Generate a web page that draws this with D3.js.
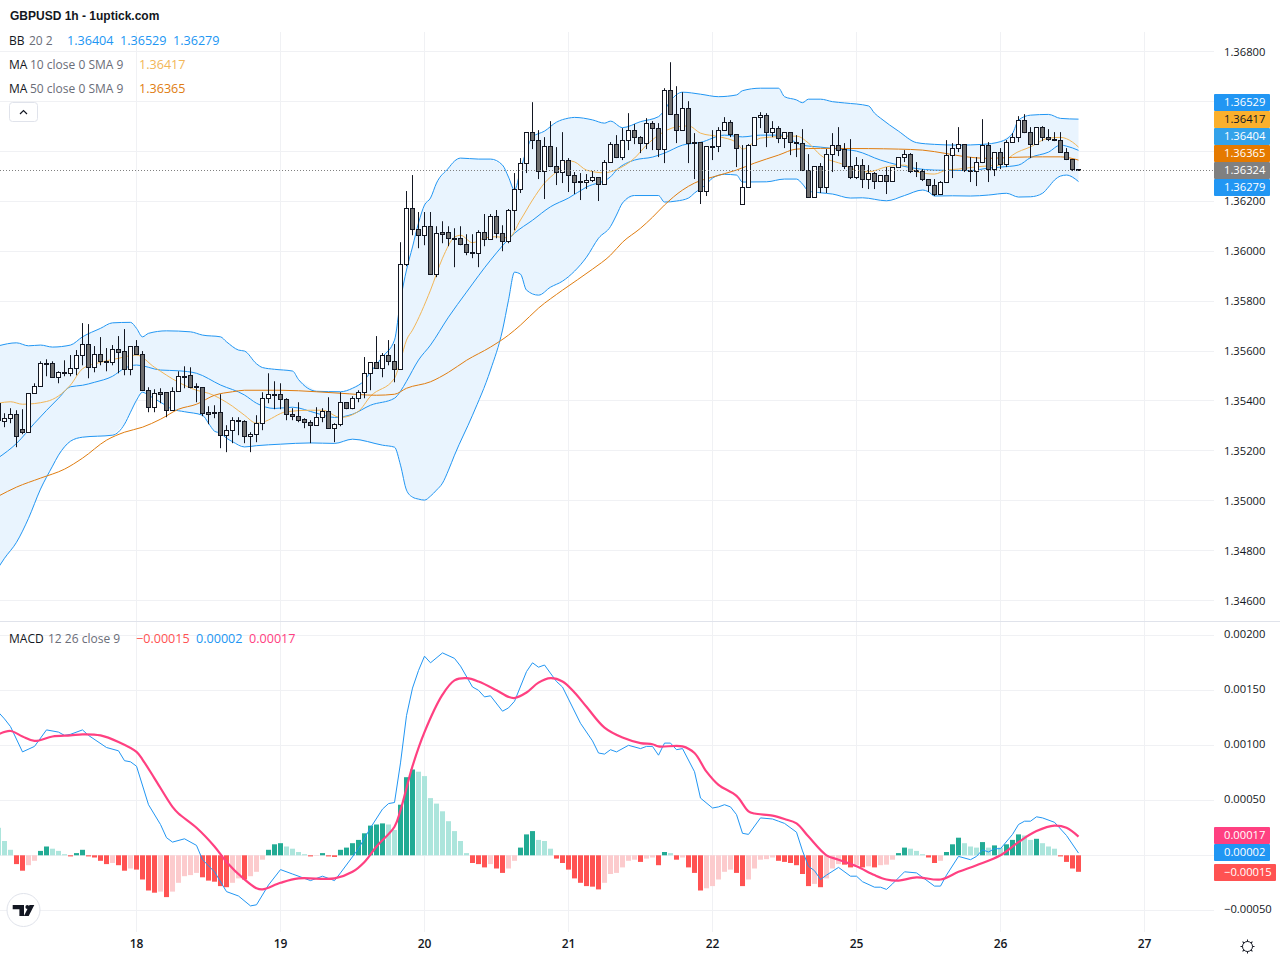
<!DOCTYPE html>
<html>
<head>
<meta charset="utf-8">
<title>GBPUSD 1h</title>
<script src="https://cdn.jsdelivr.net/npm/d3@7"></script>
<style>
    body { margin: 0; background: #fff; }
    svg { display: block; }
    text { font-family: "Open Sans", Roboto, sans-serif; font-size: 12px; }
    .axis path, .axis line { display: none; }
    .axis text { fill: #131722; font-size: 11.2px; }
</style>
</head>
<body>
<svg id="chart" width="1280" height="960"></svg>
<script>
// all prices and macd values are in points of 0.00001, hours count from the 18th 00:00
const FIRST_HOUR = -23;

const opens = [
    135391,135319,135331,135347,135287,135275,135431,135459,135551,135551,135495,135515,135511,135531,135584,135628,135535,135588,135559,135557,135608,135600,135527,
    135620,135588,135443,135375,135435,135435,135363,135439,135499,135503,135457,135455,135355,135355,135355,135263,135283,135323,135319,135259,135267,135311,135411,135427,
    135427,135407,135347,135339,135327,135315,135303,135335,135359,135291,135307,135395,135371,135411,135435,135511,135555,135531,135584,135559,135527,135948,136173,136088,
    136064,136100,135908,136076,136076,136052,136052,136028,135996,135992,136076,136048,136140,136072,136040,136165,136249,136353,136477,136445,136321,136421,136341,136317,
    136365,136305,136281,136277,136285,136297,136269,136357,136429,136377,136445,136485,136457,136433,136513,136493,136409,136645,136549,136485,136573,136433,136437,136241,
    136421,136419,136485,136517,136469,136189,136257,136425,136537,136545,136477,136493,136453,136477,136437,136433,136325,136217,136341,136257,136389,136425,136409,136341,
    136297,136345,136289,136313,136281,136305,136281,136337,136377,136389,136323,136321,136289,136265,136229,136277,136385,136413,136429,136325,136321,136357,136425,136329,
    136397,136349,136437,136457,136525,136477,136429,136497,136457,136449,136445,136397,136369,136327
];
const highs = [
    135403,135351,135371,135363,135367,135431,135471,135559,135567,135559,135519,135563,135584,135604,135712,135708,135620,135656,135612,135624,135660,135688,135620,
    135644,135600,135455,135447,135451,135435,135455,135519,135539,135535,135471,135455,135379,135383,135427,135303,135335,135335,135323,135275,135343,135435,135511,135479,
    135471,135411,135371,135395,135331,135323,135375,135371,135415,135311,135435,135395,135419,135443,135576,135555,135660,135592,135644,135628,136036,136241,136305,136157,
    136157,136157,136100,136120,136100,136092,136100,136068,136068,136084,136149,136149,136165,136104,136169,136313,136373,136477,136597,136485,136457,136521,136417,136477,
    136373,136317,136313,136309,136321,136297,136365,136437,136465,136493,136553,136509,136461,136533,136521,136513,136653,136757,136661,136637,136601,136473,136437,136421,
    136485,136497,136537,136525,136469,136425,136429,136537,136557,136553,136521,136501,136477,136477,136465,136489,136389,136341,136353,136409,136473,136497,136433,136449,
    136377,136369,136345,136317,136305,136337,136337,136377,136405,136393,136357,136329,136289,136289,136281,136445,136433,136497,136429,136377,136377,136529,136437,136397,
    136413,136445,136473,136541,136549,136497,136497,136501,136489,136477,136477,136413,136369,136327
];
const lows = [
    135303,135295,135311,135215,135267,135275,135431,135459,135499,135495,135471,135499,135499,135503,135543,135491,135515,135543,135519,135543,135511,135503,135503,
    135584,135443,135355,135355,135391,135335,135363,135439,135451,135451,135395,135339,135307,135331,135211,135195,135231,135263,135231,135195,135235,135283,135391,135367,
    135367,135323,135323,135315,135291,135231,135303,135315,135291,135235,135299,135367,135367,135395,135411,135443,135531,135495,135543,135475,135527,135940,136064,136012,
    136024,135908,135896,136032,136020,135936,136024,135984,135972,135936,136020,136048,136052,136000,136032,136084,136233,136313,136409,136289,136209,136337,136265,136273,
    136237,136229,136205,136249,136277,136201,136269,136357,136373,136365,136405,136429,136393,136409,136405,136377,136353,136549,136433,136485,136353,136289,136189,136221,
    136365,136397,136485,136457,136337,136189,136257,136425,136493,136417,136457,136433,136413,136385,136377,136321,136217,136217,136233,136233,136317,136381,136329,136289,
    136289,136253,136249,136249,136281,136229,136281,136337,136357,136313,136297,136281,136237,136221,136225,136277,136293,136397,136317,136277,136261,136353,136277,136301,
    136329,136337,136437,136437,136473,136373,136429,136441,136441,136441,136397,136365,136321,136324
];
const closes = [
    135323,135331,135347,135259,135275,135431,135459,135551,135547,135495,135515,135511,135531,135584,135628,135535,135588,135559,135557,135608,135596,135527,135620,
    135588,135443,135375,135431,135427,135363,135439,135499,135495,135455,135455,135351,135347,135351,135263,135283,135323,135319,135259,135267,135311,135411,135427,135425,
    135407,135347,135339,135323,135315,135303,135335,135359,135291,135307,135395,135371,135411,135435,135511,135555,135531,135584,135559,135527,135948,136173,136088,136064,
    136100,135908,136072,136068,136052,136050,136028,135996,135992,136076,136048,136140,136072,136040,136165,136249,136353,136477,136445,136321,136421,136341,136317,136365,
    136305,136277,136277,136285,136297,136269,136357,136429,136377,136445,136485,136457,136433,136513,136493,136409,136645,136549,136485,136573,136433,136437,136241,136421,
    136419,136485,136517,136469,136413,136257,136425,136537,136545,136477,136493,136453,136477,136437,136433,136325,136217,136341,136257,136389,136425,136405,136341,136297,
    136345,136289,136313,136281,136305,136281,136337,136377,136389,136321,136321,136289,136265,136229,136277,136385,136413,136429,136325,136321,136357,136425,136329,136397,
    136349,136437,136457,136525,136477,136429,136497,136457,136449,136445,136397,136369,136329,136324
];

// [hour, value] pairs
const bbUpper = [[-23,135621],[-20,135633],[-18,135621],[-16,135624],[-14,135616],[-11,135624],[-9,135657],[-6,135691],[-4,135713],[-1,135715],[0,135691],[1,135657],[2,135671],[5,135681],[9,135677],[11,135664],[14,135657],[15,135637],[17,135604],[18,135600],[20,135549],[21,135534],[23,135527],[26,135520],[27,135486],[30,135439],[34,135437],[36,135451],[38,135483],[39,135516],[41,135577],[43,135644],[44,135804],[45,135925],[46,136017],[47,136113],[48,136185],[49,136213],[50,136273],[52,136333],[53,136361],[54,136373],[57,136369],[59,136369],[61,136345],[62,136297],[63,136245],[64,136325],[65,136405],[66,136457],[68,136481],[70,136517],[72,136533],[73,136536],[76,136526],[78,136513],[79,136521],[81,136495],[84,136519],[87,136539],[88,136566],[89,136602],[91,136637],[94,136629],[97,136619],[100,136626],[101,136643],[104,136653],[107,136653],[108,136619],[110,136606],[111,136595],[112,136609],[114,136609],[116,136599],[118,136594],[122,136582],[123,136553],[124,136533],[127,136481],[130,136435],[133,136428],[137,136425],[141,136428],[144,136439],[146,136472],[147,136525],[149,136545],[152,136548],[154,136532],[157,136529]];
const bbMiddle = [[-23,135173],[-20,135230],[-17,135311],[-13,135411],[-11,135457],[-9,135463],[-7,135475],[-4,135499],[-2,135531],[0,135544],[4,135524],[7,135521],[10,135511],[14,135464],[18,135424],[20,135391],[23,135370],[26,135375],[30,135351],[33,135334],[36,135347],[39,135383],[43,135411],[44,135439],[45,135479],[47,135564],[49,135624],[52,135736],[55,135836],[59,135964],[63,136072],[66,136124],[69,136178],[72,136213],[75,136257],[79,136298],[80,136325],[83,136365],[86,136377],[88,136393],[91,136425],[94,136436],[98,136465],[101,136458],[104,136465],[108,136465],[110,136433],[111,136425],[114,136417],[117,136409],[120,136401],[124,136365],[127,136345],[130,136331],[133,136325],[139,136323],[142,136333],[144,136337],[147,136345],[149,136375],[152,136397],[154,136425],[155,136421],[157,136404]];
const bbLower = [[-23,134734],[-22,134770],[-20,134834],[-18,134930],[-16,135047],[-14,135139],[-13,135183],[-11,135239],[-9,135255],[-4,135263],[-2,135307],[-1,135355],[0,135403],[1,135435],[2,135423],[4,135395],[6,135367],[8,135357],[11,135343],[12,135311],[13,135279],[14,135271],[15,135251],[16,135237],[18,135216],[20,135221],[24,135227],[29,135232],[33,135230],[36,135247],[41,135223],[43,135215],[44,135143],[45,135043],[46,135015],[47,135007],[48,135003],[49,135019],[50,135043],[51,135071],[52,135123],[53,135183],[56,135343],[59,135524],[61,135684],[62,135804],[63,135916],[64,135908],[65,135844],[67,135824],[69,135856],[71,135880],[73,135920],[75,135976],[77,136052],[79,136099],[80,136145],[81,136193],[83,136223],[87,136223],[88,136197],[90,136201],[92,136213],[93,136233],[95,136269],[96,136293],[98,136308],[100,136305],[101,136277],[105,136278],[108,136289],[110,136289],[111,136269],[112,136241],[114,136234],[116,136229],[119,136213],[121,136214],[125,136202],[128,136223],[131,136245],[132,136238],[133,136221],[136,136222],[139,136221],[142,136225],[145,136232],[147,136217],[149,136218],[151,136232],[152,136257],[153,136285],[154,136301],[155,136305],[157,136279]];
const ma10 = [[-23,135391],[-21,135397],[-19,135387],[-15,135398],[-11,135464],[-9,135529],[-6,135555],[-3,135571],[0,135584],[3,135535],[7,135475],[10,135443],[12,135431],[16,135379],[18,135343],[20,135311],[21,135315],[25,135357],[29,135363],[31,135363],[34,135334],[37,135359],[39,135419],[43,135491],[44,135563],[45,135644],[46,135684],[49,135844],[51,135972],[53,136056],[54,136064],[56,136034],[58,136053],[60,136058],[62,136053],[64,136125],[66,136205],[68,136273],[70,136318],[72,136362],[73,136358],[75,136325],[78,136314],[80,136327],[83,136373],[85,136425],[87,136465],[90,136498],[92,136502],[94,136473],[97,136459],[100,136436],[101,136409],[104,136453],[107,136459],[110,136461],[112,136433],[114,136385],[118,136345],[119,136333],[122,136318],[125,136338],[128,136345],[130,136318],[133,136309],[135,136325],[137,136329],[140,136338],[142,136342],[144,136345],[145,136365],[146,136385],[149,136418],[152,136453],[154,136456],[156,136437],[157,136417]];
const ma50 = [[-23,135019],[-20,135055],[-16,135091],[-12,135127],[-9,135171],[-5,135243],[-2,135275],[1,135295],[4,135327],[7,135367],[10,135387],[13,135423],[16,135437],[18,135443],[24,135443],[30,135437],[34,135431],[40,135423],[43,135427],[45,135451],[49,135477],[52,135515],[55,135563],[59,135616],[62,135664],[64,135704],[67,135772],[71,135844],[76,135928],[79,135984],[81,136036],[84,136092],[86,136136],[88,136185],[91,136245],[93,136273],[96,136297],[100,136325],[103,136353],[107,136385],[110,136409],[114,136412],[122,136411],[127,136409],[131,136405],[135,136391],[138,136379],[142,136372],[146,136376],[151,136378],[154,136378],[157,136365]];

const macdHist = [
    25,13,5,-8,-14,-9,-5,4,8,6,4,1,-1,2,5,-1,-2,-5,-8,-7,-9,-14,-12,
    -13,-22,-32,-34,-33,-38,-33,-25,-19,-18,-16,-20,-23,-24,-28,-29,-25,-21,-22,-19,-15,-4,5,10,
    11,8,6,3,1,-1,-0.4,2,-1,-1.5,5,7,11,14,20,27,28,29,28,23,46,71,
    78,76,72,52,47,40,31,22,13,2,-7,-8,-11,-8,-12,-16,-12,-5,7,19,22,14,13,6,
    -3,-7,-13,-21,-25,-28,-28.5,-31,-25,-17,-16,-11,-5,-4,-6,-3,-2,-9,3,2,-4,-2,-11,-16,
    -32,-30,-28,-22,-15,-13,-16,-28,-22,-12,-4,-3.5,-2,-5,-6,-7,-9,-17,-28,-26,-29,-21,-12,-8,
    -8.5,-11,-9,-11,-10,-11,-9,-8.5,-4,2,7,6,4,1,-2,-7,-5,3,10,16,11,8,7,12,
    7,9,7,10,14,19,18,14,15,11,8,6,-1,-6,-12,-15
];
const macdLine = [[-23,130],[-22,124],[-21,117],[-19,94],[-17,99],[-15,114],[-13,112],[-12,109],[-11,110],[-9,114],[-8,109],[-5,98],[-3,95],[-2,86],[-1,85],[0,81],[2,46],[4,28],[5,16],[6,12],[8,15],[10,9],[11,-4],[13,-15],[15,-33],[17,-37],[19,-46],[20,-45],[22,-27],[24,-13],[26,-17],[29,-23],[31,-19],[33,-23],[34,-16],[37,6],[39,25],[41,42],[42,47],[43,48],[44,84],[45,127],[46,152],[47,168],[48,181],[49,175],[51,184],[53,179],[54,172],[56,153],[57,150],[58,144],[59,145],[61,131],[62,134],[63,140],[65,167],[66,175],[67,171],[68,173],[70,158],[71,153],[74,120],[76,104],[77,93],[78,92],[79,96],[80,94],[82,100],[84,97],[85,99],[86,99],[87,91],[88,102],[89,102],[90,96],[91,97],[93,76],[94,52],[96,43],[97,44],[98,46],[99,44],[100,37],[101,20],[102,19],[104,34],[106,33],[107,31],[108,29],[110,21],[111,4],[112,-10],[113,-14],[114,-22],[115,-18],[117,-11],[119,-19],[120,-19],[121,-24],[123,-29],[124,-29],[125,-31],[126,-26],[128,-15],[130,-16],[133,-28],[134,-28],[135,-18],[137,-1],[139,-4],[140,-1],[141,5],[142,3],[143,6],[144,6],[146,19],[147,28],[148,31],[149,31],[150,35],[151,34],[153,30],[155,18],[157,2]];
const macdSignal = [[-23,110],[-21,113],[-19,108],[-17,104],[-14,108],[-11,109],[-9,110],[-6,109],[-3,103],[0,94],[1,87],[3,70],[6,44],[7,38],[10,25],[13,8],[15,-6],[18,-22],[20,-30],[21,-31],[24,-25],[27,-21],[33,-21],[36,-15],[38,-6],[40,8],[43,26],[44,41],[46,81],[48,112],[51,146],[53,159],[55,161],[57,158],[60,150],[62,144],[63,143],[65,148],[67,157],[69,161],[71,158],[73,148],[75,135],[78,116],[81,107],[84,102],[86,101],[87,99],[91,99],[93,93],[95,76],[97,64],[100,54],[102,40],[103,38],[106,36],[108,33],[110,29],[112,17],[115,0],[117,-4],[120,-10],[123,-18],[125,-22],[127,-23],[130,-20],[134,-22],[137,-15],[140,-9],[144,0],[147,12],[150,22],[153,27],[155,25],[157,17]];

const DAY_TICKS = [0, 24, 48, 72, 96, 120, 144, 168];
const DAY_NAMES = ['18', '19', '20', '21', '22', '25', '26', '27'];
const PRICE_GRID = [134600,134800,135000,135200,135400,135600,135800,136000,136200,136400,136600,136800];
const PRICE_LABELS = [134600,134800,135000,135200,135400,135600,135800,136000,136200,136800];
const MACD_GRID = [-50,0,50,100,150,200];
const MACD_LABELS = [-50,50,100,150,200];

const BLUE = '#2196f3';
const ORANGE_LIGHT = '#f2b657';
const ORANGE = '#e07d10';
const PINK = '#ff4081';
const RED = '#ff5252';
const GRID = '#f0f1f4';
const INK = '#131722';
const MUTED = '#6a6d78';

const PANE_RIGHT = 1214;
const candles = opens.map((o, i) => ({ hour: FIRST_HOUR + i, o, h: highs[i], l: lows[i], c: closes[i] }));

const x = d3.scaleLinear().domain([0, 157]).range([136.5, 1078.5]);
const y = d3.scaleLinear().domain([134600, 136800]).range([600.7, 51.5]);
const yMacd = d3.scaleLinear().domain([-50, 200]).range([910.3, 635.3]);
const crisp = (v) => Math.round(v - 0.5) + 0.5;
const fmt = (v) => (v / 1e5).toFixed(5).replace('-', '\u2212');

const svg = d3.select('#chart');
svg.append('defs').append('clipPath').attr('id', 'pane')
    .append('rect').attr('width', PANE_RIGHT).attr('height', 960);

// grid
const grid = svg.append('g').attr('stroke', GRID).attr('shape-rendering', 'crispEdges');
grid.selectAll('.h1').data(PRICE_GRID).enter().append('line')
    .attr('x1', 0).attr('x2', PANE_RIGHT).attr('y1', d => crisp(y(d))).attr('y2', d => crisp(y(d)));
grid.selectAll('.h2').data(MACD_GRID).enter().append('line')
    .attr('x1', 0).attr('x2', PANE_RIGHT).attr('y1', d => crisp(yMacd(d))).attr('y2', d => crisp(yMacd(d)));
grid.selectAll('.v1').data(DAY_TICKS).enter().append('line')
    .attr('x1', d => x(d)).attr('x2', d => x(d)).attr('y1', 32).attr('y2', 621);
grid.selectAll('.v2').data(DAY_TICKS).enter().append('line')
    .attr('x1', d => x(d)).attr('x2', d => x(d)).attr('y1', 622).attr('y2', 932);

svg.append('line').attr('x1', 0).attr('x2', 1280).attr('y1', 621.5).attr('y2', 621.5).attr('stroke', '#e0e3eb');

const plot = svg.append('g').attr('clip-path', 'url(#pane)');
const priceLine = d3.line().x(d => x(d[0])).y(d => y(d[1]));
const smoothPrice = d3.line().x(d => x(d[0])).y(d => y(d[1])).curve(d3.curveMonotoneX);
const macdPath = d3.line().x(d => x(d[0])).y(d => yMacd(d[1]));
const smoothMacd = d3.line().x(d => x(d[0])).y(d => yMacd(d[1])).curve(d3.curveCatmullRom);

// bollinger band
plot.append('path')
    .attr('d', priceLine(bbUpper.concat(bbLower.slice().reverse())) + 'Z')
    .attr('fill', '#e9f4fe');
[[bbUpper, BLUE], [bbMiddle, BLUE], [bbLower, BLUE], [ma10, ORANGE_LIGHT], [ma50, ORANGE]].forEach(([d, color]) => {
    plot.append('path').attr('d', smoothPrice(d)).attr('fill', 'none')
        .attr('stroke', color).attr('stroke-width', 1);
});

// candles
plot.append('g').selectAll('line').data(candles).enter().append('line')
    .attr('x1', d => x(d.hour)).attr('x2', d => x(d.hour))
    .attr('y1', d => y(d.h)).attr('y2', d => y(d.l))
    .attr('stroke', '#131722').attr('stroke-width', 1);
plot.append('g').selectAll('rect').data(candles).enter().append('rect')
    .attr('x', d => x(d.hour) - 2).attr('width', 4)
    .attr('y', d => crisp(y(Math.max(d.o, d.c))))
    .attr('height', d => Math.max(1, Math.round(Math.abs(y(d.o) - y(d.c)))))
    .attr('fill', d => d.c >= d.o ? '#ffffff' : '#707070')
    .attr('stroke', '#131722').attr('stroke-width', 1);

// last price dotted line
svg.append('line').attr('x1', 0).attr('x2', PANE_RIGHT)
    .attr('y1', crisp(y(closes[closes.length - 1]))).attr('y2', crisp(y(closes[closes.length - 1])))
    .attr('stroke', '#808080').attr('stroke-dasharray', '1,2');

// macd pane
const histColor = (v, i) => {
    const prev = i > 0 ? macdHist[i - 1] : v + 1;
    if (v >= 0) return v > prev ? '#22ab94' : '#ace5dc';
    return v < prev ? '#ff5252' : '#fccbcd';
};
plot.append('g').selectAll('rect').data(macdHist).enter().append('rect')
    .attr('x', (d, i) => x(FIRST_HOUR + i) - 2.5).attr('width', 5)
    .attr('y', d => Math.min(yMacd(d), yMacd(0)))
    .attr('height', d => Math.abs(yMacd(d) - yMacd(0)))
    .attr('fill', histColor);
plot.append('path').attr('d', macdPath(macdLine)).attr('fill', 'none').attr('stroke', BLUE).attr('stroke-width', 1);
plot.append('path').attr('d', smoothMacd(macdSignal)).attr('fill', 'none').attr('stroke', PINK).attr('stroke-width', 2.2);

// axes
const priceAxis = d3.axisRight(y).tickValues(PRICE_LABELS).tickSize(0).tickPadding(0).tickFormat(fmt);
const macdAxis = d3.axisRight(yMacd).tickValues(MACD_LABELS).tickSize(0).tickPadding(0).tickFormat(fmt);
const timeAxis = d3.axisBottom(x).tickValues(DAY_TICKS).tickSize(0).tickPadding(0).tickFormat((d, i) => DAY_NAMES[i]);
svg.append('g').attr('class', 'axis').attr('transform', 'translate(1224,0)').call(priceAxis);
svg.append('g').attr('class', 'axis').attr('transform', 'translate(1224,-1.2)').call(macdAxis);
svg.append('g').attr('class', 'axis').attr('transform', 'translate(-0.5,939)').call(timeAxis)
    .selectAll('text').attr('font-weight', 600).style('font-size', '12px');

// last value tags
const TAGS = [
    { v: fmt(136529), mid: 102.5, color: BLUE, text: '#fff', w: 56 },
    { v: fmt(136417), mid: 119.5, color: '#fbb02d', text: '#131722', w: 56 },
    { v: fmt(136404), mid: 136.5, color: '#33a2ea', text: '#fff', w: 56 },
    { v: fmt(136365), mid: 153.5, color: '#e57a00', text: '#fff', w: 56 },
    { v: fmt(136324), mid: 170.5, color: '#808080', text: '#fff', w: 56 },
    { v: fmt(136279), mid: 187.5, color: BLUE, text: '#fff', w: 56 },
    { v: fmt(17), mid: 835.5, color: PINK, text: '#fff', w: 56 },
    { v: fmt(2), mid: 852.5, color: BLUE, text: '#fff', w: 56 },
    { v: fmt(-15), mid: 872.5, color: RED, text: '#fff', w: 62 }
];
const tag = svg.append('g').selectAll('g').data(TAGS).enter().append('g');
tag.append('rect').attr('x', PANE_RIGHT).attr('y', d => d.mid - 8.5).attr('width', d => d.w).attr('height', 17)
    .attr('rx', 1).attr('fill', d => d.color);
tag.append('text').attr('x', 1224).attr('y', d => d.mid).attr('dy', '0.35em')
    .attr('fill', d => d.text).style('font-size', '11.2px').text(d => d.v);

// legend
svg.append('text').attr('x', 10).attr('y', 20).text('GBPUSD 1h - 1uptick.com')
    .style('font-family', '"Liberation Sans", Arial, sans-serif').style('font-weight', 700).attr('fill', INK);
const LEGEND = [
    [9, 45, 'BB', INK], [29, 45, '20 2', MUTED], [67, 45, fmt(136404), BLUE], [120, 45, fmt(136529), BLUE], [173, 45, fmt(136279), BLUE],
    [9, 69, 'MA', INK], [30, 69, '10 close 0 SMA 9', MUTED], [139, 69, fmt(136417), ORANGE_LIGHT],
    [9, 93, 'MA', INK], [30, 93, '50 close 0 SMA 9', MUTED], [139, 93, fmt(136365), ORANGE],
    [9, 643, 'MACD', INK], [48, 643, '12 26 close 9', MUTED], [136, 643, fmt(-15), RED], [196, 643, fmt(2), BLUE], [249, 643, fmt(17), PINK]
];
svg.append('g').selectAll('text').data(LEGEND).enter().append('text')
    .attr('x', d => d[0]).attr('y', d => d[1]).attr('fill', d => d[3]).text(d => d[2])
    .style('font-size', d => (d[3] === INK || d[3] === MUTED) ? '12px' : '12.6px');

// collapse button
svg.append('rect').attr('x', 9.5).attr('y', 102.5).attr('width', 28).attr('height', 19).attr('rx', 3)
    .attr('fill', '#fff').attr('stroke', '#e0e3eb');
svg.append('path').attr('d', 'M20 114l3.5-3.5l3.5 3.5').attr('fill', 'none').attr('stroke', INK).attr('stroke-width', 1.2);

// logo
svg.append('circle').attr('cx', 23.5).attr('cy', 910).attr('r', 16.5).attr('fill', '#fff').attr('stroke', '#e0e3eb');
const logo = svg.append('g').attr('fill', INK);
logo.append('path').attr('d', 'M12.7 905h11.3v11h-4.6v-6.8h-6.7z');
logo.append('circle').attr('cx', 27.3).attr('cy', 907).attr('r', 1.9);
logo.append('path').attr('d', 'M29.5 905h4.8l-5.6 11h-4.8z');

// settings gear
const gear = svg.append('g').attr('transform', 'translate(1247.5,946.5)').attr('stroke', INK).attr('fill', 'none');
gear.append('circle').attr('r', 5);
gear.selectAll('line').data(d3.range(8)).enter().append('line')
    .attr('x1', 0).attr('x2', 0).attr('y1', -5).attr('y2', -7)
    .attr('transform', d => `rotate(${d * 45})`);
</script>
</body>
</html>
